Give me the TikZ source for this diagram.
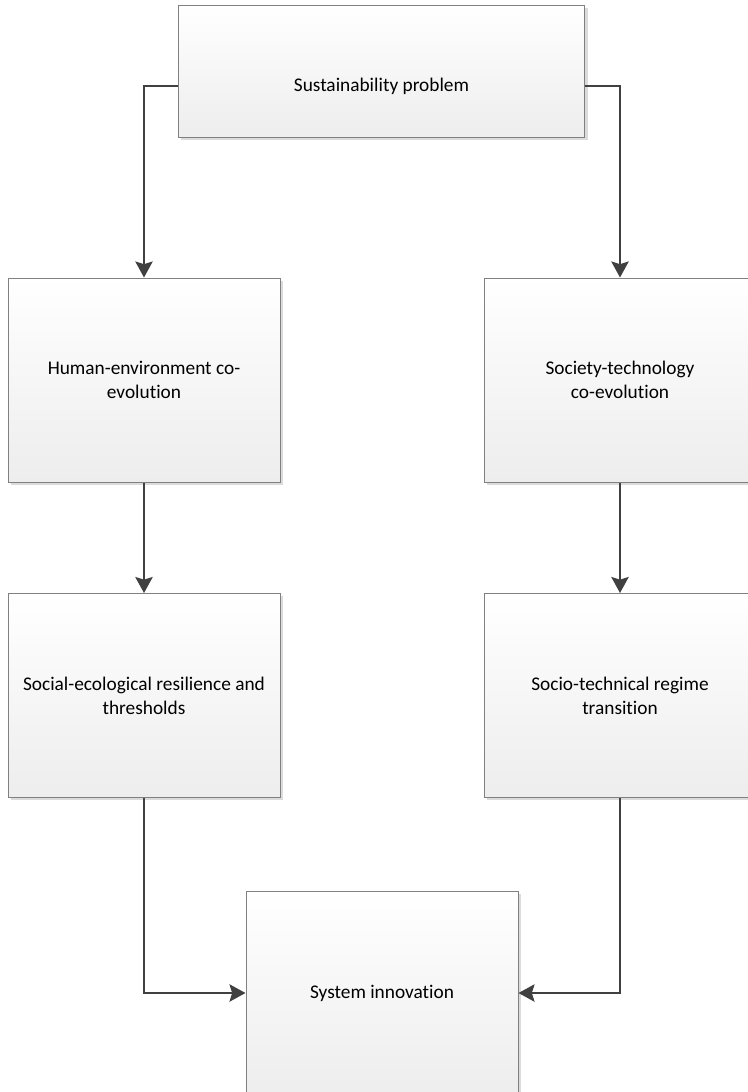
\documentclass[tikz,border=0pt]{standalone}
\usepackage{fontspec}
\setmainfont{Carlito}[Ligatures=NoCommon]
\usetikzlibrary{arrows.meta}
\usetikzlibrary{shadows}

\begin{document}
\begin{tikzpicture}[x=0.75pt,y=-0.75pt,
box/.style={draw=black!50, line width=0.75pt, top color=white, bottom color=black!7,
  minimum width=204pt, minimum height=153pt, align=center,
  drop shadow={shadow xshift=2.2pt, shadow yshift=-2.2pt, fill=black!14, opacity=1}},
lbl/.style={align=center, font=\fontsize{14.5}{18}\selectfont},
link/.style={draw=black!75, line width=1.5pt, -{Stealth[length=12pt,width=13pt,inset=2pt]}}]
\useasboundingbox (0,0) rectangle (748,1092);
\node[box, minimum width=305pt, minimum height=99pt] (sp) at (381.5,71) {};
\node[lbl] (sptext) at (381.5,86) {Sustainability problem};
\node[box, lbl] (he) at (144,380) {Human-environment co-\\evolution};
\node[box, lbl] (st) at (620,380) {Society-technology\\co-evolution};
\node[box, lbl] (ser) at (144,695.5) {Social-ecological resilience and\\thresholds};
\node[box, lbl] (str) at (620,695.5) {Socio-technical regime\\transition};
\node[box, lbl] (si) at (382,993) {System innovation};
\draw[link] (sp.west |- sptext) -| (he);
\draw[link] (sp.east |- sptext) -| (st);
\draw[link] (he) -- (ser);
\draw[link] (st) -- (str);
\draw[link] (ser) |- (si);
\draw[link] (str) |- (si);
\end{tikzpicture}
\end{document}
